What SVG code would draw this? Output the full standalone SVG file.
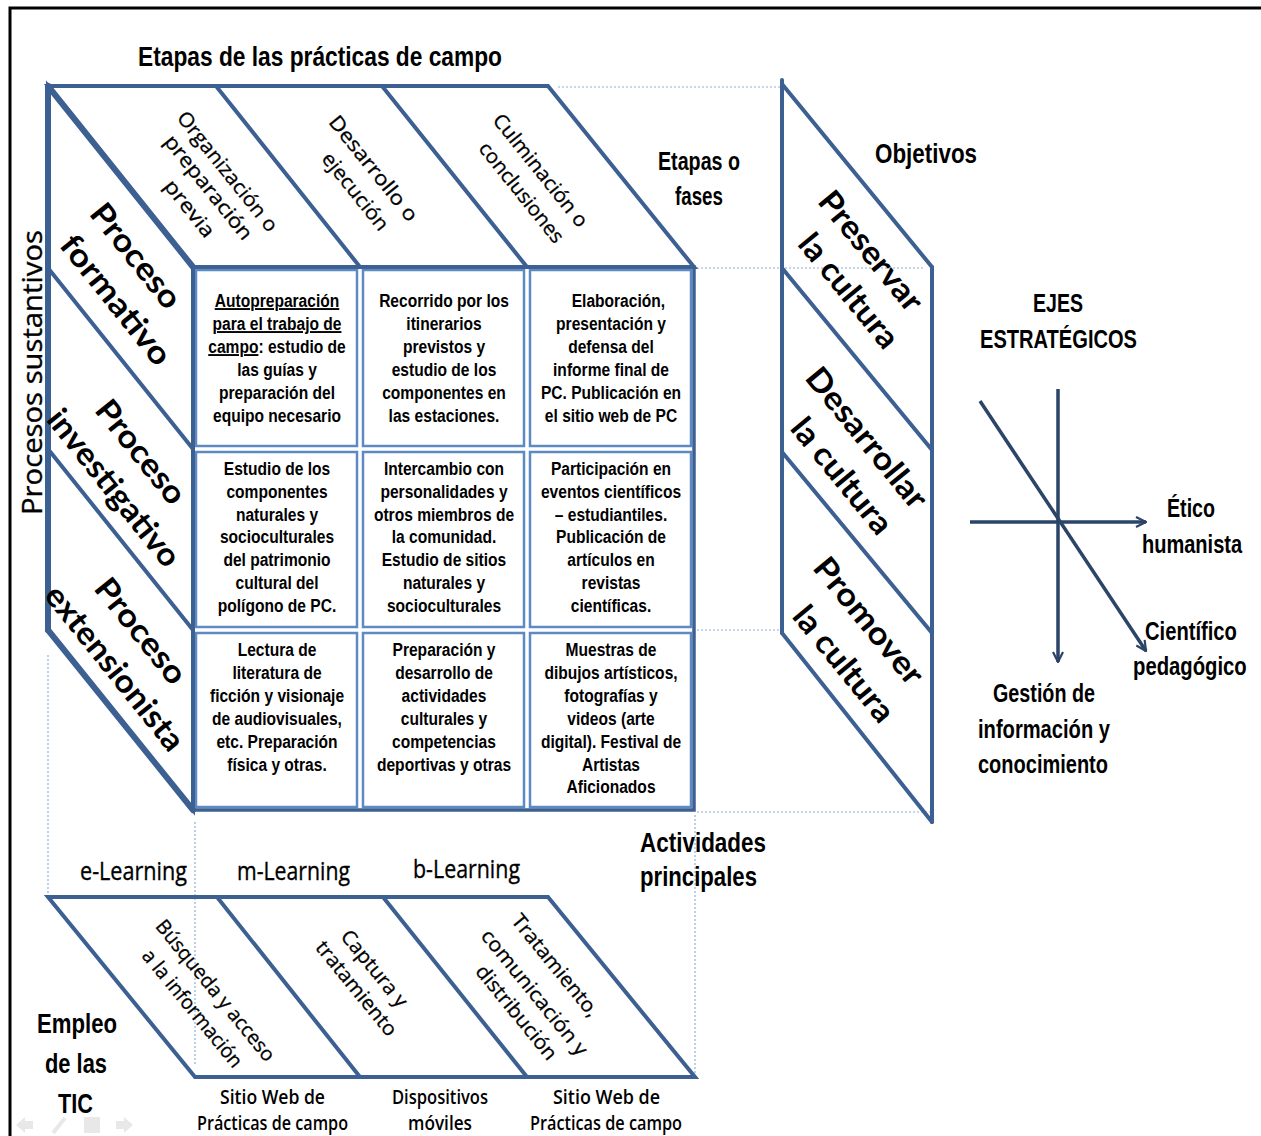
<svg xmlns="http://www.w3.org/2000/svg" width="1261" height="1136" viewBox="0 0 1261 1136">
<defs>
<style>
.edge{fill:none;stroke:#3D6092;stroke-width:4;stroke-linejoin:miter;stroke-linecap:round}
.thick{fill:none;stroke:#3D6092;stroke-width:6;stroke-linecap:round}
.cellr{fill:#fff;stroke:#5E8AC3;stroke-width:2.5}
.dot{fill:none;stroke:#8FAEDC;stroke-width:1.2;stroke-dasharray:2 2}
.axis{fill:none;stroke:#2B4468;stroke-width:3.5}
.cn{font-family:"Liberation Sans Narrow","Liberation Sans",Arial,sans-serif;font-weight:bold;fill:#000}
.cell{font-family:"Liberation Sans",Arial,sans-serif;font-weight:bold;font-size:19px;fill:#000;text-anchor:middle}
.rr{font-family:"Open Sans",Lato,sans-serif;font-size:20px;fill:#000;stroke:#000;stroke-width:0.3;text-anchor:middle;dominant-baseline:central}
.rb{font-family:Lato,"Open Sans",sans-serif;font-weight:bold;font-size:32px;fill:#000;text-anchor:middle;dominant-baseline:central}
.cal{font-family:"Open Sans",Lato,sans-serif;fill:#000;stroke:#000;stroke-width:0.35}
.calb{font-family:"Open Sans",Lato,sans-serif;font-weight:600;fill:#000}
.u{text-decoration:underline}
.nav{fill:#e8e8e8;stroke:none}
</style>
<marker id="arr" viewBox="0 0 12 12" refX="11" refY="6" markerWidth="12" markerHeight="12" markerUnits="userSpaceOnUse" orient="auto">
<path d="M1,1 L11,6 L1,11" fill="none" stroke="#2B4468" stroke-width="2.2"/>
</marker>
</defs>
<rect width="1261" height="1136" fill="#fff"/>
<!-- frame -->
<path d="M10,1136 L10,8 L1261,8" fill="none" stroke="#000" stroke-width="3"/>

<!-- dotted guide lines -->
<g id="guides">
<line class="dot" x1="558" y1="87" x2="780" y2="87"/>
<line class="dot" x1="697" y1="268" x2="923" y2="268"/>
<line class="dot" x1="697" y1="630" x2="782" y2="630"/>
<line class="dot" x1="697" y1="812" x2="930" y2="812"/>
<line class="dot" x1="48" y1="655" x2="48" y2="895"/>
<line class="dot" x1="195" y1="822" x2="195" y2="1065"/>
<line class="dot" x1="695" y1="815" x2="695" y2="1075"/>
</g>

<!-- top face -->
<g id="top-face">
<polygon class="edge" points="48,86 548,86 694,267 193,267"/>
<line class="edge" x1="216" y1="86" x2="360" y2="267"/>
<line class="edge" x1="382" y1="86" x2="527" y2="267"/>
<text class="rr" transform="translate(228,171) rotate(51.3)" textLength="148" lengthAdjust="spacingAndGlyphs">Organización o</text>
<text class="rr" transform="translate(209,187) rotate(51.3)" textLength="128" lengthAdjust="spacingAndGlyphs">preparación</text>
<text class="rr" transform="translate(190,208) rotate(51.3)" textLength="68" lengthAdjust="spacingAndGlyphs">previa</text>
<text class="rr" transform="translate(374,168) rotate(51.3)" textLength="129" lengthAdjust="spacingAndGlyphs">Desarrollo o</text>
<text class="rr" transform="translate(356,191) rotate(51.3)" textLength="94" lengthAdjust="spacingAndGlyphs">ejecución</text>
<text class="rr" transform="translate(541,170) rotate(51.3)" textLength="139" lengthAdjust="spacingAndGlyphs">Culminación o</text>
<text class="rr" transform="translate(522,192) rotate(51.3)" textLength="123" lengthAdjust="spacingAndGlyphs">conclusiones</text>
</g>

<!-- left face -->
<g id="left-face">
<polygon class="edge" points="48,86 193,267 193,810 48,630"/>
<line class="thick" x1="48" y1="86" x2="48" y2="630"/>
<line class="thick" x1="48" y1="86" x2="193" y2="267"/>
<line class="thick" x1="48" y1="630" x2="193" y2="810"/>
<line class="edge" x1="48" y1="268" x2="193" y2="449"/>
<line class="edge" x1="48" y1="449" x2="193" y2="630"/>
<text class="rb" transform="translate(137,255) rotate(51.3)" textLength="125" lengthAdjust="spacingAndGlyphs">Proceso</text>
<text class="rb" transform="translate(117,299) rotate(51.3)" textLength="157" lengthAdjust="spacingAndGlyphs">formativo</text>
<text class="rb" transform="translate(142,451) rotate(51.3)" textLength="124" lengthAdjust="spacingAndGlyphs">Proceso</text>
<text class="rb" transform="translate(115,487) rotate(51.3)" textLength="192" lengthAdjust="spacingAndGlyphs">investigativo</text>
<text class="rb" transform="translate(142,630) rotate(51.3)" textLength="126" lengthAdjust="spacingAndGlyphs">Proceso</text>
<text class="rb" transform="translate(116,667) rotate(51.3)" textLength="202" lengthAdjust="spacingAndGlyphs">extensionista</text>
</g>

<!-- front grid -->
<g id="front-grid">
<rect class="cellr" x="196" y="270" width="161" height="176"/>
<rect class="cellr" x="363" y="270" width="161" height="176"/>
<rect class="cellr" x="530" y="270" width="161" height="176"/>
<rect class="cellr" x="196" y="452" width="161" height="175"/>
<rect class="cellr" x="363" y="452" width="161" height="175"/>
<rect class="cellr" x="530" y="452" width="161" height="175"/>
<rect class="cellr" x="196" y="633" width="161" height="174"/>
<rect class="cellr" x="363" y="633" width="161" height="174"/>
<rect class="cellr" x="530" y="633" width="161" height="174"/>
<rect x="193" y="267" width="501" height="543" fill="none" stroke="#3D6092" stroke-width="3.5"/>
</g>

<g id="cell-1-1" transform="translate(277,0) scale(0.82,1)">
<text class="cell"><tspan x="0" y="307" class="u">Autopreparación</tspan><tspan x="0" y="330" class="u">para el trabajo de</tspan><tspan x="0" y="353"><tspan class="u">campo</tspan>: estudio de</tspan><tspan x="0" y="376">las guías y</tspan><tspan x="0" y="399">preparación del</tspan><tspan x="0" y="422">equipo necesario</tspan></text>
</g>
<g id="cell-1-2" transform="translate(444,0) scale(0.82,1)">
<text class="cell"><tspan x="0" y="307">Recorrido por los</tspan><tspan x="0" y="330">itinerarios</tspan><tspan x="0" y="353">previstos y</tspan><tspan x="0" y="376">estudio de los</tspan><tspan x="0" y="399">componentes en</tspan><tspan x="0" y="422">las estaciones.</tspan></text>
</g>
<g id="cell-1-3" transform="translate(611,0) scale(0.82,1)">
<text class="cell"><tspan x="9" y="307">Elaboración,</tspan><tspan x="0" y="330">presentación y</tspan><tspan x="0" y="353">defensa del</tspan><tspan x="0" y="376">informe final de</tspan><tspan x="0" y="399">PC. Publicación en</tspan><tspan x="0" y="422">el sitio web de PC</tspan></text>
</g>
<g id="cell-2-1" transform="translate(277,0) scale(0.82,1)">
<text class="cell"><tspan x="0" y="475">Estudio de los</tspan><tspan x="0" y="498">componentes</tspan><tspan x="0" y="521">naturales y</tspan><tspan x="0" y="543">socioculturales</tspan><tspan x="0" y="566">del patrimonio</tspan><tspan x="0" y="589">cultural del</tspan><tspan x="0" y="612">polígono de PC.</tspan></text>
</g>
<g id="cell-2-2" transform="translate(444,0) scale(0.82,1)">
<text class="cell"><tspan x="0" y="475">Intercambio con</tspan><tspan x="0" y="498">personalidades y</tspan><tspan x="0" y="521">otros miembros de</tspan><tspan x="0" y="543">la comunidad.</tspan><tspan x="0" y="566">Estudio de sitios</tspan><tspan x="0" y="589">naturales y</tspan><tspan x="0" y="612">socioculturales</tspan></text>
</g>
<g id="cell-2-3" transform="translate(611,0) scale(0.82,1)">
<text class="cell"><tspan x="0" y="475">Participación en</tspan><tspan x="0" y="498">eventos científicos</tspan><tspan x="0" y="521">– estudiantiles.</tspan><tspan x="0" y="543">Publicación de</tspan><tspan x="0" y="566">artículos en</tspan><tspan x="0" y="589">revistas</tspan><tspan x="0" y="612">científicas.</tspan></text>
</g>
<g id="cell-3-1" transform="translate(277,0) scale(0.82,1)">
<text class="cell"><tspan x="0" y="656">Lectura de</tspan><tspan x="0" y="679">literatura de</tspan><tspan x="0" y="702">ficción y visionaje</tspan><tspan x="0" y="725">de audiovisuales,</tspan><tspan x="0" y="748">etc. Preparación</tspan><tspan x="0" y="771">física y otras.</tspan></text>
</g>
<g id="cell-3-2" transform="translate(444,0) scale(0.82,1)">
<text class="cell"><tspan x="0" y="656">Preparación y</tspan><tspan x="0" y="679">desarrollo de</tspan><tspan x="0" y="702">actividades</tspan><tspan x="0" y="725">culturales y</tspan><tspan x="0" y="748">competencias</tspan><tspan x="0" y="771">deportivas y otras</tspan></text>
</g>
<g id="cell-3-3" transform="translate(611,0) scale(0.82,1)">
<text class="cell"><tspan x="0" y="656">Muestras de</tspan><tspan x="0" y="679">dibujos artísticos,</tspan><tspan x="0" y="702">fotografías y</tspan><tspan x="0" y="725">videos (arte</tspan><tspan x="0" y="748">digital). Festival de</tspan><tspan x="0" y="771">Artistas</tspan><tspan x="0" y="793">Aficionados</tspan></text>
</g>

<!-- right face: objectives -->
<g id="objectives">
<line class="edge" x1="782" y1="80" x2="782" y2="633"/>
<line class="edge" x1="932" y1="267" x2="932" y2="822"/>
<line class="edge" x1="782" y1="84" x2="932" y2="267"/>
<line class="edge" x1="782" y1="268" x2="932" y2="450"/>
<line class="edge" x1="782" y1="452" x2="932" y2="633"/>
<line class="edge" x1="782" y1="633" x2="932" y2="822"/>
<text class="rb" transform="translate(872,250) rotate(50.7)" textLength="145" lengthAdjust="spacingAndGlyphs">Preservar</text>
<text class="rb" transform="translate(850,290) rotate(50.7)" textLength="138" lengthAdjust="spacingAndGlyphs">la cultura</text>
<text class="rb" transform="translate(868,437) rotate(50.7)" textLength="172" lengthAdjust="spacingAndGlyphs">Desarrollar</text>
<text class="rb" transform="translate(843,475) rotate(50.7)" textLength="140" lengthAdjust="spacingAndGlyphs">la cultura</text>
<text class="rb" transform="translate(870,620) rotate(50.7)" textLength="154" lengthAdjust="spacingAndGlyphs">Promover</text>
<text class="rb" transform="translate(845,663) rotate(50.7)" textLength="140" lengthAdjust="spacingAndGlyphs">la cultura</text>
</g>

<!-- TIC face -->
<g id="tic-face">
<polygon class="edge" points="48,897 548,897 695,1077 195,1077"/>
<line class="edge" x1="217" y1="897" x2="360" y2="1077"/>
<line class="edge" x1="383" y1="897" x2="527" y2="1077"/>
<text class="rr" font-size="21" transform="translate(216,990) rotate(50.8)" textLength="176" lengthAdjust="spacingAndGlyphs">Búsqueda y acceso</text>
<text class="rr" font-size="21" transform="translate(193,1008) rotate(50.8)" textLength="146" lengthAdjust="spacingAndGlyphs">a la información</text>
<text class="rr" font-size="21" transform="translate(375,968) rotate(50.8)" textLength="93" lengthAdjust="spacingAndGlyphs">Captura y</text>
<text class="rr" font-size="21" transform="translate(357,988) rotate(50.8)" textLength="116" lengthAdjust="spacingAndGlyphs">tratamiento</text>
<text class="rr" font-size="21" transform="translate(556,965) rotate(50.8)" textLength="126" lengthAdjust="spacingAndGlyphs">Tratamiento,</text>
<text class="rr" font-size="21" transform="translate(535,992) rotate(50.8)" textLength="156" lengthAdjust="spacingAndGlyphs">comunicación y</text>
<text class="rr" font-size="21" transform="translate(517,1012) rotate(50.8)" textLength="116" lengthAdjust="spacingAndGlyphs">distribución</text>
</g>

<!-- axes -->
<g id="axes">
<line class="axis" x1="1058" y1="389" x2="1058" y2="662" marker-end="url(#arr)"/>
<line class="axis" x1="970" y1="522" x2="1146" y2="522" marker-end="url(#arr)"/>
<line class="axis" x1="980" y1="401" x2="1146" y2="651" marker-end="url(#arr)"/>
</g>

<!-- labels -->
<g id="labels">
<text class="cn" x="138" y="66" font-size="27" textLength="364" lengthAdjust="spacingAndGlyphs">Etapas de las prácticas de campo</text>
<text class="cn" x="658" y="170" font-size="26" textLength="82" lengthAdjust="spacingAndGlyphs">Etapas o</text>
<text class="cn" x="675" y="205" font-size="26" textLength="48" lengthAdjust="spacingAndGlyphs">fases</text>
<text class="cn" x="875" y="163" font-size="27" textLength="102" lengthAdjust="spacingAndGlyphs">Objetivos</text>
<text class="cn" x="1033" y="312" font-size="26" textLength="50" lengthAdjust="spacingAndGlyphs">EJES</text>
<text class="cn" x="980" y="348" font-size="26" textLength="157" lengthAdjust="spacingAndGlyphs">ESTRATÉGICOS</text>
<text class="cn" x="1167" y="517" font-size="26" textLength="48" lengthAdjust="spacingAndGlyphs">Ético</text>
<g transform="translate(1142,0) scale(0.77,1)"><text class="cn" x="0" y="553" font-size="26">humanista</text></g>
<g transform="translate(1145,0) scale(0.776,1)"><text class="cn" x="0" y="640" font-size="26">Científico</text></g>
<g transform="translate(1133,0) scale(0.78,1)"><text class="cn" x="0" y="675" font-size="26">pedagógico</text></g>
<text class="cn" x="993" y="702" font-size="26" textLength="102" lengthAdjust="spacingAndGlyphs">Gestión de</text>
<text class="cn" x="978" y="738" font-size="26" textLength="132" lengthAdjust="spacingAndGlyphs">información y</text>
<text class="cn" x="978" y="773" font-size="26" textLength="130" lengthAdjust="spacingAndGlyphs">conocimiento</text>
<text class="cn" x="640" y="852" font-size="28" textLength="126" lengthAdjust="spacingAndGlyphs">Actividades</text>
<text class="cn" x="640" y="886" font-size="28" textLength="117" lengthAdjust="spacingAndGlyphs">principales</text>
<text class="cn" x="37" y="1033" font-size="28" textLength="80" lengthAdjust="spacingAndGlyphs">Empleo</text>
<text class="cn" x="45" y="1073" font-size="28" textLength="62" lengthAdjust="spacingAndGlyphs">de las</text>
<text class="cn" x="58" y="1113" font-size="28" textLength="35" lengthAdjust="spacingAndGlyphs">TIC</text>
<text class="cal" transform="translate(42,515) rotate(-90)" font-size="28" textLength="285" lengthAdjust="spacingAndGlyphs">Procesos sustantivos</text>
<text class="cal" x="80" y="880" font-size="25" textLength="107" lengthAdjust="spacingAndGlyphs">e-Learning</text>
<text class="cal" x="237" y="880" font-size="25" textLength="113" lengthAdjust="spacingAndGlyphs">m-Learning</text>
<text class="cal" x="413" y="878" font-size="25" textLength="107" lengthAdjust="spacingAndGlyphs">b-Learning</text>
<text class="calb" x="220" y="1104" font-size="20" textLength="105" lengthAdjust="spacingAndGlyphs">Sitio Web  de</text>
<text class="calb" x="197" y="1130" font-size="19" textLength="151" lengthAdjust="spacingAndGlyphs">Prácticas de campo</text>
<text class="calb" x="392" y="1104" font-size="20" textLength="96" lengthAdjust="spacingAndGlyphs">Dispositivos</text>
<text class="calb" x="408" y="1130" font-size="19" textLength="64" lengthAdjust="spacingAndGlyphs">móviles</text>
<text class="calb" x="553" y="1104" font-size="20" textLength="107" lengthAdjust="spacingAndGlyphs">Sitio Web  de</text>
<text class="calb" x="530" y="1130" font-size="19" textLength="152" lengthAdjust="spacingAndGlyphs">Prácticas de campo</text>
</g>

<!-- faded navigation icons -->
<g id="nav-icons">
<polygon class="nav" points="16,1125 25,1117 25,1121 33,1121 33,1129 25,1129 25,1133"/>
<line x1="53" y1="1133" x2="65" y2="1118" stroke="#e8e8e8" stroke-width="4"/>
<rect class="nav" x="84" y="1117" width="16" height="16"/>
<polygon class="nav" points="133,1125 124,1117 124,1121 116,1121 116,1129 124,1129 124,1133"/>
</g>
</svg>
